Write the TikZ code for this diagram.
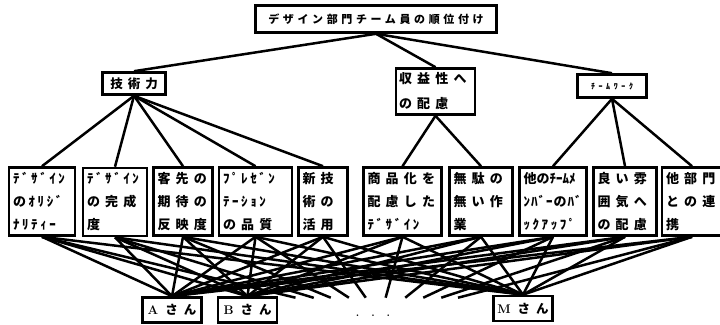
\documentclass[tikz,border=0pt]{standalone}
\usepackage{fontspec}
\newfontfamily\jpw[LetterSpace=40]{Noto Sans CJK JP}
\newfontfamily\jph[LetterSpace=20]{Noto Sans CJK JP}
\newfontfamily\jpm[LetterSpace=8]{Noto Sans CJK JP}
\newfontfamily\jpt{Noto Sans CJK JP}
\newfontfamily\jptop[LetterSpace=33]{Noto Sans CJK JP}
\newfontfamily\jptw[LetterSpace=45]{Noto Sans CJK JP}
\usetikzlibrary{calc,backgrounds}
\tikzset{
  box/.style={draw, line width=2.6pt, fill=white, inner sep=0pt},
  crit/.style={box, minimum height=68pt, align=left, inner xsep=4pt,
    font=\jpw\bfseries\fontsize{13}{23}\selectfont},
  sub/.style={box, align=left, inner xsep=3pt,
    font=\jpw\bfseries\fontsize{13}{25}\selectfont},
  person/.style={box, minimum width=59pt, minimum height=25pt,
    font=\bfseries\fontsize{12.5}{14}\selectfont},
  link/.style={line width=2.5pt},
}
\begin{document}
\begin{tikzpicture}[x=1pt,y=-1pt]
\useasboundingbox (0,0) rectangle (720,324);

% top
\node[box, minimum width=241pt, minimum height=27pt,
  font=\jptop\bfseries\fontsize{11}{13}\selectfont] (top) at (376,19) {デザイン部門チーム員の順位付け};

% level 2
\node[box, minimum width=63pt, minimum height=22pt,
  font=\jpw\bfseries\fontsize{12.5}{14}\selectfont] (tech) at (134,83.5) {技術力};
\node[sub, text width=73pt, minimum height=46pt] (prof) at (435.5,91.5) {収益性へ\\の配慮};
\node[box, minimum width=69pt, minimum height=23pt,
  font=\jptw\bfseries\fontsize{8}{10}\selectfont] (team) at (612,86) {ﾁｰﾑﾜｰｸ};

% level 3
\node[crit, text width=58pt] (c1) at (42,201.5) {{\jph ﾃﾞｻﾞｲﾝ}\\{\jph のｵﾘｼﾞ}\\{\jph ﾅﾘﾃｨｰ}};
\node[crit, text width=56pt] (c2) at (115,202) {{\jph ﾃﾞｻﾞｲﾝ}\\の完成\\度};
\node[crit, text width=51pt] (c3) at (183,201.5) {客先の\\期待の\\反映度};
\node[crit, text width=65pt] (c4) at (255.5,201.5) {{\jph ﾌﾟﾚｾﾞﾝ}\\{\jph ﾃｰｼｮﾝ}\\の品質};
\node[crit, text width=41pt] (c5) at (323,201.5) {新技\\術の\\活用};
\node[crit, text width=70pt] (c6) at (402.5,201.5) {商品化を\\配慮した\\{\jph ﾃﾞｻﾞｲﾝ}};
\node[crit, text width=55pt] (c7) at (481,201.5) {無駄の\\無い作\\業};
\node[crit, text width=59pt] (c8) at (553,201.5) {{\jpt 他のﾁｰﾑﾒ}\\{\jpm ﾝﾊﾞｰのﾊﾞ}\\{\jph ｯｸｱｯﾌﾟ}};
\node[crit, text width=55pt] (c9) at (625,201.5) {良い雰\\囲気へ\\の配慮};
\node[crit, text width=52pt] (c10) at (692,201.5) {他部門\\との連\\携};

% persons
\node[person] (pa) at (172,310) {A\hspace{7pt}{\jpt さ}\hspace{6pt}{\jpt ん}};
\node[person] (pb) at (247.5,310) {B\hspace{7pt}{\jpt さ}\hspace{6pt}{\jpt ん}};
\node[person] (pm) at (523,308.5) {M\hspace{7pt}{\jpt さ}\hspace{6pt}{\jpt ん}};
\node[font=\bfseries\fontsize{11}{12}\selectfont] (dots) at (373,316) {.\hspace{12pt}.\hspace{12pt}.};
\coordinate (dotsC) at (380,318);

\begin{scope}[on background layer]
\foreach \t in {tech,prof,team} \draw[link] (top.south) -- (\t.north);
\foreach \c in {c1,c2,c3,c4,c5} \draw[link] (tech.south) -- (\c.north);
\foreach \c in {c6,c7} \draw[link] (prof.south) -- (\c.north);
\foreach \c in {c8,c9,c10} \draw[link] (team.south) -- (\c.north);
\foreach \c in {c1,c2,c3,c4,c5,c6,c7,c8,c9,c10} {
  \foreach \p in {pa,pb,pm} \draw[link] (\c.south) -- (\p.north);
  \draw[link] (\c.south) -- ($(\c.south)!0.75!(dotsC)$);
}
\end{scope}
\end{tikzpicture}
\end{document}
